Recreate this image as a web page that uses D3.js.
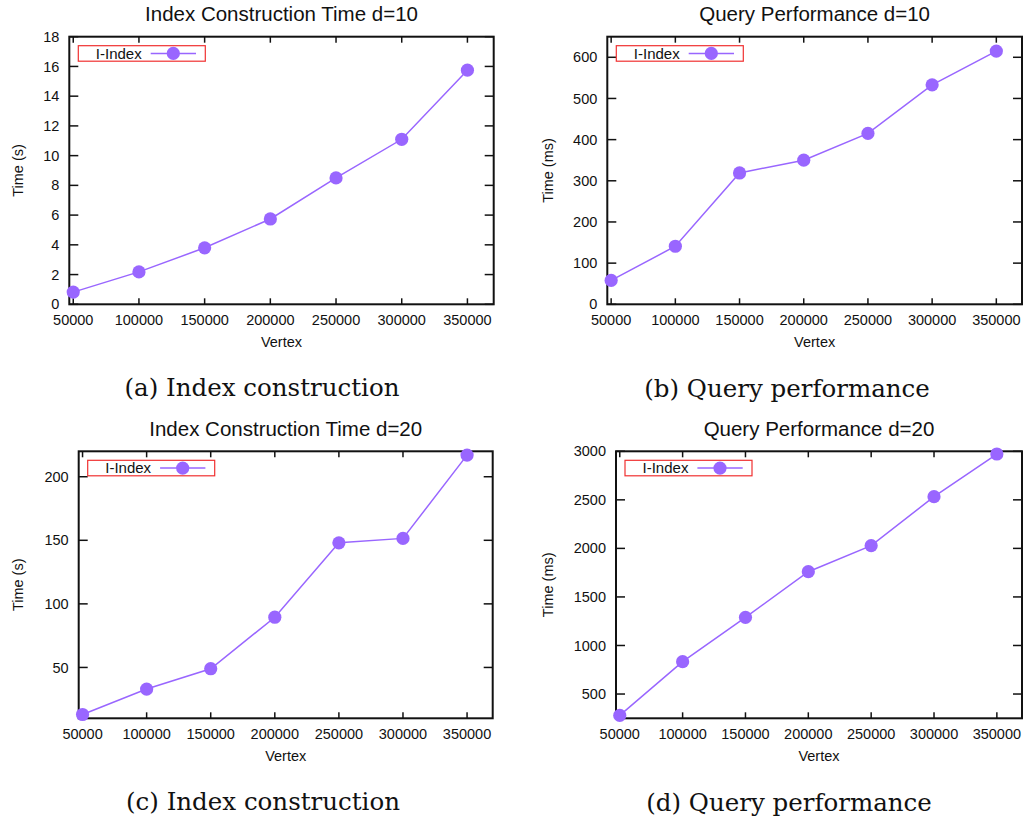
<!DOCTYPE html>
<html>
<head>
<meta charset="utf-8">
<script src="https://cdn.jsdelivr.net/npm/d3@7"></script>
<style>
  body { margin: 0; background: #fff; }
  svg { display: block; }
  .tick-label { font-family: "Liberation Sans", Arial, sans-serif; font-size: 14.5px; fill: #111; }
  .title { font-family: "Liberation Sans", Arial, sans-serif; font-size: 20.5px; fill: #111; }
  .axis-label { font-family: "Liberation Sans", Arial, sans-serif; font-size: 14.5px; fill: #111; }
  .caption { font-family: "DejaVu Serif", serif; font-size: 24.5px; fill: #111; }
</style>
</head>
<body>
<div id="chart"></div>
<script>
// 数据
const vertices = [50000, 100000, 150000, 200000, 250000, 300000, 350000];
const buildTimeD10 = [0.82, 2.18, 3.8, 5.74, 8.5, 11.1, 15.75];
const queryTimeD10 = [58, 141, 319, 350, 415, 533, 615];
const buildTimeD20 = [13, 33, 49, 89.5, 148, 151.5, 217];
const queryTimeD20 = [280, 833, 1290, 1760, 2028, 2533, 2972];

const titles = ["Index Construction Time d=10", "Query Performance d=10",
                "Index Construction Time d=20", "Query Performance d=20"];
const captions = ["(a) Index construction", "(b) Query performance",
                  "(c) Index construction", "(d) Query performance"];
const yLabels = ["Time (s)", "Time (ms)", "Time (s)", "Time (ms)"];
const yDomains = [[0, 18], [0, 650], [10, 220], [250, 3000]];
const yTicks = [
  [0, 2, 4, 6, 8, 10, 12, 14, 16, 18],
  [0, 100, 200, 300, 400, 500, 600],
  [50, 100, 150, 200],
  [500, 1000, 1500, 2000, 2500, 3000]
];
const xDomain = [47000, 370000];
const seriesName = "I-Index";

const width = 1029, height = 821;
const purple = "#9966ff";

// 每个子图的框位置
const frames = [
  { x0: 69.3, x1: 493.7, y0: 36.7, y1: 304.3, panelLeft: 0 },
  { x0: 607.3, x1: 1022, y0: 36.7, y1: 304.3, panelLeft: 530 },
  { x0: 78.7, x1: 492.7, y0: 451.3, y1: 718.3, panelLeft: 0 },
  { x0: 616, x1: 1022, y0: 451.3, y1: 718.3, panelLeft: 530 }
];
const captionPos = [[262, 395.7], [787, 396.5], [263, 810.3], [789, 811]];
const series = [buildTimeD10, queryTimeD10, buildTimeD20, queryTimeD20];

const svg = d3.select("#chart").append("svg")
  .attr("width", width)
  .attr("height", height);

series.forEach((values, i) => {
  const f = frames[i];
  const x = d3.scaleLinear().domain(xDomain).range([f.x0, f.x1]);
  const y = d3.scaleLinear().domain(yDomains[i]).range([f.y1, f.y0]);
  const g = svg.append("g");

  // 刻度（四边，向内）
  const yt = yTicks[i];
  g.selectAll(".ytick-l").data(yt).enter().append("line")
    .attr("x1", f.x0).attr("x2", f.x0 + 9)
    .attr("y1", d => y(d)).attr("y2", d => y(d))
    .attr("stroke", "#111").attr("stroke-width", 1.5);
  g.selectAll(".ytick-r").data(yt).enter().append("line")
    .attr("x1", f.x1).attr("x2", f.x1 - 9)
    .attr("y1", d => y(d)).attr("y2", d => y(d))
    .attr("stroke", "#111").attr("stroke-width", 1.5);
  g.selectAll(".xtick-b").data(vertices).enter().append("line")
    .attr("x1", d => x(d)).attr("x2", d => x(d))
    .attr("y1", f.y1).attr("y2", f.y1 - 6)
    .attr("stroke", "#111").attr("stroke-width", 1.5);
  g.selectAll(".xtick-t").data(vertices).enter().append("line")
    .attr("x1", d => x(d)).attr("x2", d => x(d))
    .attr("y1", f.y0).attr("y2", f.y0 + 6)
    .attr("stroke", "#111").attr("stroke-width", 1.5);

  // 刻度标签
  g.selectAll(".ylab").data(yt).enter().append("text")
    .attr("class", "tick-label")
    .attr("x", f.x0 - 10)
    .attr("y", d => y(d))
    .attr("dy", "0.35em")
    .attr("text-anchor", "end")
    .text(d => d);
  g.selectAll(".xlab").data(vertices).enter().append("text")
    .attr("class", "tick-label")
    .attr("x", d => x(d))
    .attr("y", f.y1 + 21)
    .attr("text-anchor", "middle")
    .text(d => d);

  // 框
  g.append("rect")
    .attr("x", f.x0).attr("y", f.y0)
    .attr("width", f.x1 - f.x0).attr("height", f.y1 - f.y0)
    .attr("fill", "none").attr("stroke", "#111").attr("stroke-width", 2);

  // 标题和轴标签
  g.append("text").attr("class", "title")
    .attr("x", (f.x0 + f.x1) / 2).attr("y", f.y0 - 15.5)
    .attr("text-anchor", "middle").text(titles[i]);
  g.append("text").attr("class", "axis-label")
    .attr("x", (f.x0 + f.x1) / 2).attr("y", f.y1 + 42.5)
    .attr("text-anchor", "middle").text("Vertex");
  g.append("text").attr("class", "axis-label")
    .attr("transform", `translate(${f.panelLeft + 22.5},${(f.y0 + f.y1) / 2}) rotate(-90)`)
    .attr("text-anchor", "middle").text(yLabels[i]);

  // 折线和点
  const pts = vertices.map((v, k) => [v, values[k]]);
  g.append("path")
    .datum(pts)
    .attr("d", d3.line().x(d => x(d[0])).y(d => y(d[1])))
    .attr("fill", "none").attr("stroke", purple).attr("stroke-width", 1.5);
  g.selectAll(".pt").data(pts).enter().append("circle")
    .attr("cx", d => x(d[0])).attr("cy", d => y(d[1]))
    .attr("r", 6.6).attr("fill", purple);

  // 图例
  const lx = f.x0 + 9, ly = f.y0 + 9;
  const lg = g.append("g").attr("transform", `translate(${lx},${ly})`);
  lg.append("rect").attr("width", 127).attr("height", 15.5)
    .attr("fill", "#fff").attr("stroke", "#f03030").attr("stroke-width", 1.2);
  lg.append("text").attr("class", "tick-label")
    .style("font-size", "15px")
    .attr("x", 63.4).attr("y", 7.75).attr("dy", "0.35em")
    .attr("text-anchor", "end").text(seriesName);
  lg.append("line").attr("x1", 72.4).attr("x2", 117.7)
    .attr("y1", 7.75).attr("y2", 7.75)
    .attr("stroke", purple).attr("stroke-width", 1.5);
  lg.append("circle").attr("cx", 95).attr("cy", 7.75).attr("r", 6.6).attr("fill", purple);

  // 子图说明
  svg.append("text").attr("class", "caption")
    .attr("x", captionPos[i][0]).attr("y", captionPos[i][1])
    .attr("text-anchor", "middle").text(captions[i]);
});
</script>
</body>
</html>
